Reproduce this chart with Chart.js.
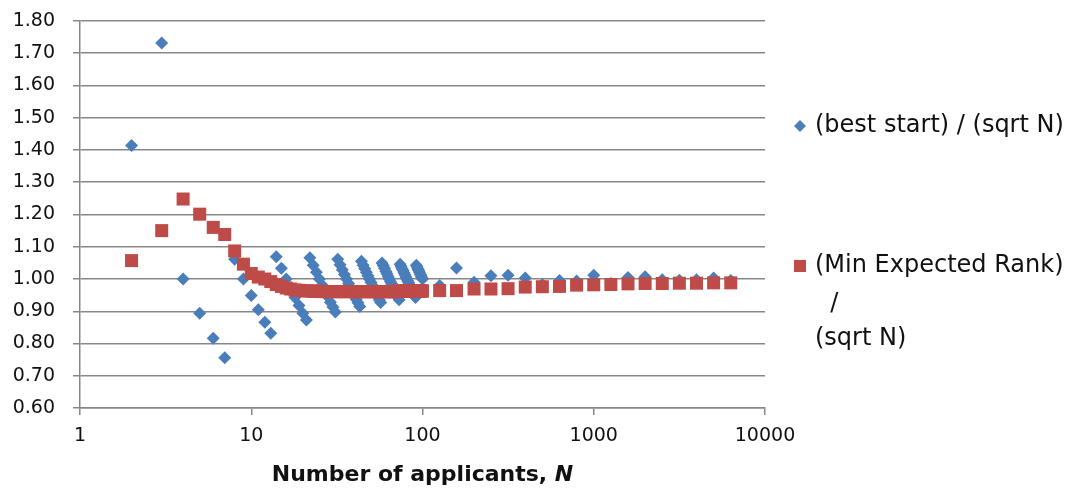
<!DOCTYPE html>
<html>
<head>
<meta charset="utf-8">
<script src="https://cdn.jsdelivr.net/npm/chart.js@4.4.1/dist/chart.umd.min.js"></script>
<style>
  html, body { margin: 0; padding: 0; background: #fff; }
  #wrap { width: 1071px; height: 498px; }
</style>
</head>
<body>
<div id="wrap"><canvas id="chart" width="1071" height="498"></canvas></div>
<script>
// number of applicants N (every N from 2 to 100, then spaced out on the log axis)
const applicants = [
  2, 3, 4, 5, 6, 7, 8, 9, 10, 11, 12, 13,
  14, 15, 16, 17, 18, 19, 20, 21,
  22, 23, 24, 25, 26, 27, 28, 29, 30, 31,
  32, 33, 34, 35, 36, 37, 38, 39, 40, 41, 42, 43,
  44, 45, 46, 47, 48, 49, 50, 51, 52, 53, 54, 55, 56, 57,
  58, 59, 60, 61, 62, 63, 64, 65, 66, 67, 68, 69, 70, 71, 72, 73,
  74, 75, 76, 77, 78, 79, 80, 81, 82, 83, 84, 85, 86, 87, 88, 89, 90, 91,
  92, 93, 94, 95, 96, 97, 98, 99, 100,
  126, 158, 200, 251, 316, 398, 501, 631, 794, 1000,
  1259, 1585, 1995, 2512, 3162, 3981, 5012, 6310
];

// (best start) / (sqrt N)
const bestStartRatio = [
  1.414, 1.732, 1.000, 0.894, 0.816, 0.756, 1.061, 1.000, 0.949, 0.905, 0.866, 0.832,
  1.069, 1.033, 1.000, 0.970, 0.943, 0.918, 0.894, 0.873,
  1.066, 1.043, 1.021, 1.000, 0.981, 0.962, 0.945, 0.928, 0.913, 0.898,
  1.061, 1.044, 1.029, 1.014, 1.000, 0.986, 0.973, 0.961, 0.949, 0.937, 0.926, 0.915,
  1.055, 1.043, 1.032, 1.021, 1.010, 1.000, 0.990, 0.980, 0.971, 0.962, 0.953, 0.944, 0.935, 0.927,
  1.050, 1.042, 1.033, 1.024, 1.016, 1.008, 1.000, 0.992, 0.985, 0.977, 0.970, 0.963, 0.956, 0.949, 0.943, 0.936,
  1.046, 1.039, 1.032, 1.026, 1.019, 1.013, 1.006, 1.000, 0.994, 0.988, 0.982, 0.976, 0.970, 0.965, 0.959, 0.954, 0.949, 0.943,
  1.043, 1.037, 1.031, 1.026, 1.021, 1.015, 1.010, 1.005, 1.000,
  0.980, 1.034, 0.990, 1.010, 1.012, 1.003, 0.983, 0.995, 0.994, 1.012,
  0.986, 1.005, 1.007, 0.998, 0.996, 0.998, 1.003, 0.995
];

// (Min Expected Rank) / (sqrt N)
const minRankRatio = [
  1.057, 1.150, 1.248, 1.201, 1.160, 1.138, 1.087, 1.046, 1.017, 1.006, 1.000, 0.992,
  0.983, 0.977, 0.972, 0.969, 0.966, 0.965, 0.964, 0.963,
  0.963, 0.962, 0.962, 0.962, 0.961, 0.961, 0.961, 0.961, 0.961, 0.961,
  0.961, 0.961, 0.961, 0.961, 0.961, 0.961, 0.961, 0.961, 0.961, 0.961, 0.961, 0.961,
  0.961, 0.961, 0.961, 0.961, 0.961, 0.961, 0.961, 0.961, 0.961, 0.961, 0.961, 0.961, 0.961, 0.961,
  0.961, 0.961, 0.961, 0.961, 0.961, 0.961, 0.961, 0.961, 0.961, 0.961, 0.961, 0.961, 0.961, 0.962, 0.962, 0.962,
  0.962, 0.962, 0.962, 0.962, 0.962, 0.962, 0.962, 0.962, 0.962, 0.962, 0.962, 0.962, 0.962, 0.962, 0.962, 0.962, 0.962, 0.962,
  0.962, 0.962, 0.962, 0.962, 0.963, 0.963, 0.963, 0.963, 0.963,
  0.964, 0.964, 0.969, 0.969, 0.970, 0.975, 0.976, 0.977, 0.981, 0.982,
  0.983, 0.985, 0.986, 0.986, 0.987, 0.987, 0.988, 0.988
];

const xTickValues = [1, 10, 100, 1000, 10000];
const bestStartLabel = ['(best start) / (sqrt N)'];
const minRankLabel = ['(Min Expected Rank)', '  /', '(sqrt N)'];
const xTitle = 'Number of applicants, ';
const xTitleItalic = 'N';

const BLUE = '#4A7EBB';
const RED = '#BE4B48';
const GRID = '#878787';
const FONT = "'DejaVu Sans', sans-serif";

const toPoints = ys => applicants.map((n, i) => ({ x: n, y: ys[i] }));

// legend on the right + x title with italic N
const extras = {
  id: 'extras',
  afterDraw(chart) {
    const ctx = chart.ctx;
    const area = chart.chartArea;
    ctx.save();
    ctx.textBaseline = 'middle';

    // legend
    ctx.font = '24px ' + FONT;
    ctx.fillStyle = BLUE;
    ctx.beginPath();
    ctx.moveTo(800, 120); ctx.lineTo(806, 126); ctx.lineTo(800, 132); ctx.lineTo(794, 126);
    ctx.closePath();
    ctx.fill();
    ctx.fillStyle = '#111';
    bestStartLabel.forEach((t, i) => ctx.fillText(t, 815, 126 + i * 36));

    ctx.fillStyle = RED;
    ctx.fillRect(794, 260, 12, 12);
    ctx.fillStyle = '#111';
    const ys = [266, 304, 339];
    minRankLabel.forEach((t, i) => ctx.fillText(t, 815, ys[i]));

    // axis title
    ctx.font = 'bold 22px ' + FONT;
    const w1 = ctx.measureText(xTitle).width;
    ctx.font = 'italic bold 22px ' + FONT;
    const w2 = ctx.measureText(xTitleItalic).width;
    const start = (area.left + area.right) / 2 - (w1 + w2) / 2;
    ctx.font = 'bold 22px ' + FONT;
    ctx.fillText(xTitle, start, 475);
    ctx.font = 'italic bold 22px ' + FONT;
    ctx.fillText(xTitleItalic, start + w1, 475);
    ctx.restore();
  }
};

new Chart(document.getElementById('chart'), {
  type: 'scatter',
  data: {
    datasets: [
      {
        label: bestStartLabel.join(' '),
        data: toPoints(bestStartRatio),
        pointStyle: 'rectRot',
        pointRadius: 6.5,
        backgroundColor: BLUE,
        borderColor: BLUE,
        borderWidth: 0,
        order: 2
      },
      {
        label: minRankLabel.join(' '),
        data: toPoints(minRankRatio),
        pointStyle: 'rect',
        pointRadius: 9.2,
        backgroundColor: RED,
        borderColor: RED,
        borderWidth: 0,
        order: 1
      }
    ]
  },
  options: {
    responsive: false,
    animation: false,
    devicePixelRatio: 1,
    layout: { padding: { left: 0, right: 306, top: 21, bottom: 0 } },
    plugins: {
      legend: { display: false },
      tooltip: { enabled: false }
    },
    scales: {
      x: {
        type: 'logarithmic',
        min: 1,
        max: 10000,
        afterFit: s => { s.height = 90; s.paddingLeft = 0; s.paddingRight = 0; },
        afterBuildTicks: s => { s.ticks = xTickValues.map(v => ({ value: v })); },
        ticks: {
          callback: v => String(v),
          font: { family: FONT, size: 19 },
          color: '#111',
          padding: 10,
          maxRotation: 0,
          autoSkip: false
        },
        grid: { drawOnChartArea: false, drawTicks: true, tickLength: 7, color: GRID, lineWidth: 1.5 },
        border: { display: true, color: GRID, width: 1.5 }
      },
      y: {
        min: 0.6,
        max: 1.8,
        afterFit: s => { s.width = 80; s.paddingTop = 0; s.paddingBottom = 0; },
        ticks: {
          stepSize: 0.1,
          callback: v => v.toFixed(2),
          font: { family: FONT, size: 19 },
          color: '#111',
          padding: 18
        },
        grid: { color: GRID, lineWidth: 1.5, tickLength: 7, drawTicks: true },
        border: { display: true, color: GRID, width: 1.5 }
      }
    }
  },
  plugins: [extras]
});
</script>
</body>
</html>
